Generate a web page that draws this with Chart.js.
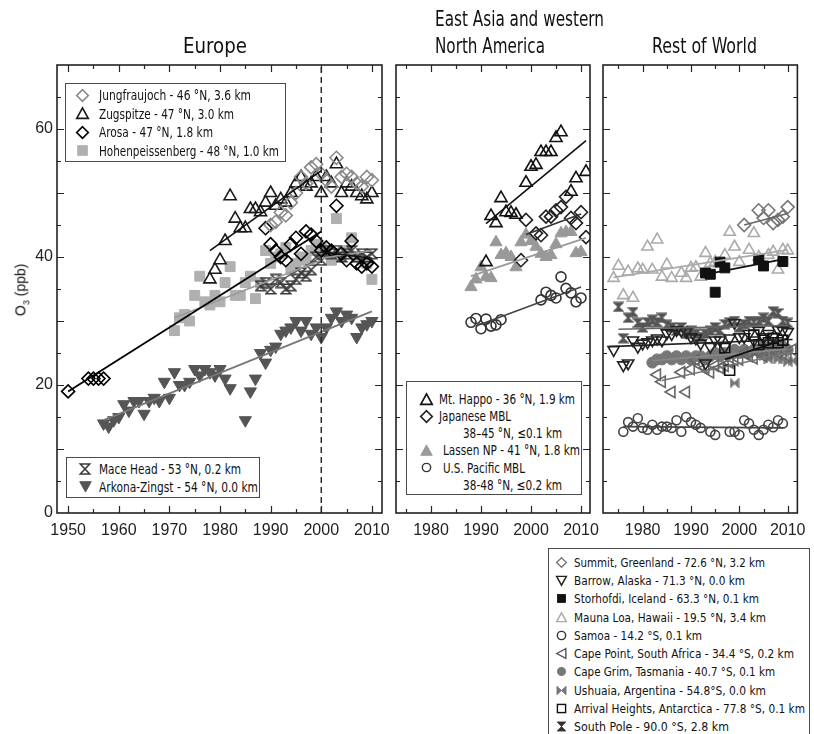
<!DOCTYPE html>
<html>
<head>
<meta charset="utf-8">
<title>Surface ozone trends</title>
<script src="https://cdn.jsdelivr.net/npm/chart.js@4.4.1/dist/chart.umd.min.js"></script>
<style>
html,body{margin:0;padding:0;background:#fff;}
body{width:814px;height:734px;position:relative;overflow:hidden;font-family:"Liberation Sans Narrow","DejaVu Sans Condensed","Liberation Sans",Arial,sans-serif;color:#111;}
canvas{position:absolute;left:0;top:0;}
.t{position:absolute;white-space:nowrap;transform-origin:0 50%;line-height:1;}
.box{position:absolute;border:1.5px solid #4a4a4a;background:#fff;box-sizing:border-box;}
svg.mk{position:absolute;overflow:visible;}
</style>
</head>
<body>
<canvas id="cEur" width="814" height="734"></canvas>
<canvas id="cAsia" width="814" height="734"></canvas>
<canvas id="cRow" width="814" height="734"></canvas>
<div id="overlay"></div>
<script>
// ================= DATA =================
const o3Range = [0, 70];
const euroXRange = [1947.8, 2012];
const asiaXRange = [1973, 2011.8];
const rowXRange = [1971.8, 2012];
const dividerYear = 2000;

// ---- Europe ----
const jungYears = [1990,1991,1992,1993,1994,1995,1996,1997,1998,1999,2000,2001,2002,2003,2004,2005,2006,2007,2008,2009,2010];
const jungO3    = [45,45.5,47,46.5,48.5,50,52.5,51.5,54,54.5,53,52,51,55.5,52.5,53,52.5,51.5,51,52.5,52];

const zugYears = [1978,1979,1980,1981,1982,1983,1984,1985,1986,1987,1988,1989,1990,1991,1992,1993,1994,1995,1996,1997,1998,1999,2000,2001,2002,2003,2004,2005,2006,2007,2008,2009,2010];
const zugO3    = [36.5,38,39.5,42.5,49.5,46,44.5,44.5,47.5,47.5,47,48.5,50,48,49,48.5,50,51.5,52.5,51,51.5,52.5,50,52.5,51.5,54.5,50,51.5,51,50,49.5,49,50];

const arosaYears = [1950,1954,1955,1956,1957,1989,1990,1991,1992,1993,1994,1995,1996,1997,1998,1999,2000,2001,2002,2003,2004,2005,2006,2007,2008,2009,2010];
const arosaO3    = [19,21,21,21,21,44.5,42,41,40,39.5,42,43,40.5,44,43.5,42.5,41,41.5,41,48,40.5,39.5,42.5,39,38.5,39,38.5];

const hohenYears = [1971,1972,1973,1974,1975,1976,1977,1978,1979,1980,1981,1982,1983,1984,1985,1986,1987,1988,1989,1990,1991,1992,1993,1994,1995,1996,1997,1998,1999,2000,2001,2002,2003,2004,2005,2006,2007,2008,2009,2010];
const hohenO3    = [28.5,30.5,31,30,34,37,33,32.5,34,33,36,38.5,34,34,36,37,33.5,36,41,39,40,40.5,41.5,38,39,40,39.5,41,42,41.5,41,39.5,46,40,41,43,40,39.5,39,36.5];

const maceYears = [1988,1989,1990,1991,1992,1993,1994,1995,1996,1997,1998,1999,2000,2001,2002,2003,2004,2005,2006,2007,2008,2009,2010];
const maceO3    = [35.5,36,35,36.5,36,35,35.5,36.5,37.5,37,38,40,39.5,41,40.5,41,40,40.5,41,40,40.5,40,40.5];

const arkonaYears = [1957,1958,1959,1960,1961,1962,1963,1964,1965,1966,1967,1968,1969,1970,1971,1972,1973,1974,1975,1976,1977,1978,1979,1980,1981,1982,1985,1986,1987,1988,1989,1990,1991,1992,1993,1994,1995,1996,1997,1998,1999,2000,2001,2002,2003,2004,2005,2006,2007,2008,2009,2010];
const arkonaO3    = [14,13.5,14.5,15,17,16,17.5,17.5,15.5,17.5,18,17.5,20.5,18,22,20,20,20.5,22.5,21.5,22.5,22,21.5,22.5,21,19.5,14.5,19,21,25,23.5,25.5,26,28,28.5,29,30,28.5,30,28,29,27.5,29,30.5,31.5,30,31,30.5,27.5,29,29.5,30];

const zugTrendYears = [1978, 2000],   zugTrendO3 = [41, 53.5];
const arosaTrendYears = [1950, 2000], arosaTrendO3 = [19, 44];
const hohenTrendYears = [1971, 2000], hohenTrendO3 = [30.5, 39.5];
const maceTrendYears = [1989, 2000],  maceTrendO3 = [35, 40];
const arkonaTrendYears = [1957, 2010], arkonaTrendO3 = [14.5, 31.5];
const arosaPostYears = [2000, 2010],  arosaPostO3 = [40.8, 39.8];
const hohenPostYears = [2000, 2010],  hohenPostO3 = [39.8, 41];

// ---- East Asia and western North America ----
const happoYears = [1991,1992,1993,1994,1995,1996,1997,1999,2000,2001,2002,2003,2004,2005,2006,2008,2009,2011];
const happoO3    = [39.2,46.4,45.3,49.2,47,46.9,46.6,51.6,54.1,54.4,56.4,56.4,56.4,58.6,59.5,50.2,52.3,53.3];

const japanYears = [1998,1999,2001,2002,2003,2004,2005,2006,2007,2008,2009,2010,2011];
const japanO3    = [39.5,45.8,43.7,43.4,46.3,46.3,47.3,47.8,49.4,46.1,45.3,47,43.1];

const lassenYears = [1988,1989,1990,1991,1992,1993,1994,1995,1996,1997,1998,1999,2000,2001,2002,2003,2004,2005,2006,2007,2008,2009,2010];
const lassenO3    = [35.3,36.5,38.4,36.9,36.7,42.3,40.3,40.6,40,38.4,42.3,43.5,42.5,41.6,40.5,40,40.3,42,43.7,43.9,43.9,40.6,40.8];

const pacificYears = [1988,1989,1990,1991,1992,1993,1994,2002,2003,2004,2005,2006,2007,2008,2009,2010];
const pacificO3    = [29.8,30.4,28.8,30.3,29.2,29.4,30.2,33.3,34.5,34,33.6,36.9,35.1,34.4,33,33.6];

const happoTrendYears = [1991, 2011],   happoTrendO3 = [45.2, 58.2];
const japanTrendYears = [1999, 2010],   japanTrendO3 = [43.5, 46.7];
const lassenTrendYears = [1988, 2011],  lassenTrendO3 = [37, 43];
const pacificTrendYears = [1989, 2010], pacificTrendO3 = [29.2, 35.3];

// ---- Rest of World ----
const summitYears = [2001,2004,2005,2006,2007,2008,2009,2010];
const summitO3    = [45,47.3,46.1,47.3,45.3,45.8,46.3,47.8];

const barrowYears = [1974,1976,1977,1978,1979,1980,1981,1982,1983,1984,1985,1986,1987,1988,1989,1990,1991,1992,1993,1994,1995,1996,1997,1998,1999,2000,2001,2002,2003,2004,2005,2006,2007,2008,2009,2010];
const barrowO3    = [25.5,23.1,23.4,27,26,26.5,26.7,27,27.3,27,28.1,28,28.6,28.5,28.3,27.5,27.3,26.5,23.4,26,27,27,26,27.3,29.7,27.5,27.5,28,27,28.5,27.5,28,27.5,28.6,28.5,28.3];

const storYears = [1993,1994,1995,1996,1997,2004,2005,2009];
const storO3    = [37.5,37.3,34.5,39.2,38.3,39.6,38.6,39.3];

const maunaYears = [1974,1975,1976,1977,1978,1979,1980,1981,1982,1983,1984,1985,1986,1988,1989,1990,1991,1992,1993,1994,1995,1997,1998,1999,2000,2002,2003,2004,2006,2007,2008,2009,2010];
const maunaO3    = [36.7,38.6,34,37.7,33.6,38.2,38,41.6,38,42.7,36.9,38.8,36.7,37.5,36.7,38.3,38.4,36.9,40.6,39,39.2,40.3,43.9,41.6,39.2,41.1,43.7,40,40.3,40.8,38,41.1,41];

const samoaYears = [1976,1977,1978,1979,1980,1981,1982,1983,1984,1985,1986,1987,1988,1989,1990,1991,1992,1994,1995,1998,1999,2000,2001,2002,2003,2004,2005,2006,2007,2008,2009];
const samoaO3    = [12.7,14.2,13.5,14.8,13.3,13,13.8,13,13.5,13.5,13.3,14.5,12.7,15,14.2,13.8,13.3,12.7,12.2,12.7,12.7,12.2,14.5,14,13,12.2,13,13.8,13.4,14.5,14];

const capePointYears = [1983,1984,1986,1988,1989,1990,1991,1992,1993,1994,1995,1996,1997,1998,1999,2000,2001,2002,2003,2004,2005,2006,2007,2008,2009,2010,2011];
const capePointO3    = [21.6,20.5,18.9,22,18.9,22.5,23.9,23,22.7,22,23,22.7,23,23.5,23.9,24,25,24.5,24.2,25,24.5,25,25.5,25,25.5,24.5,25.5];

const capeGrimYears = [1982,1983,1984,1985,1986,1987,1988,1989,1990,1991,1992,1993,1994,1995,1996,1997,1998,1999,2000,2001,2002,2003,2004,2005,2006,2007,2008,2009,2010];
const capeGrimO3    = [23.5,24,24,24.5,24,24.5,24,24.5,24,24.5,24.5,24,24.5,25,24.5,25,25,25.5,25,25.5,25,25.5,25.5,26,25.5,26,25.5,26,25.5];

const ushuaiaYears = [1999,2005,2006,2007,2008,2009,2010,2011];
const ushuaiaO3    = [20.3,24.5,24,24.5,24,24,23.6,23.8];

const arrivalYears = [1997,1998,2003,2004,2005,2006,2007,2008,2009];
const arrivalO3    = [25.8,22.3,27.8,26.3,27,26.6,27.3,26.6,27];

const southPoleYears = [1975,1976,1977,1978,1979,1980,1981,1982,1983,1984,1985,1986,1987,1988,1989,1990,1991,1992,1993,1994,1995,1996,1997,1998,1999,2000,2001,2002,2003,2004,2005,2006,2007,2008,2009,2010];
const southPoleO3    = [32.2,27.3,30.5,31.4,29.7,29,29.8,30.2,29.8,30.5,29.4,29,28.5,29,28,28.5,28,27.5,28,28.5,29,28.5,29.5,29.8,30,29,29.5,30,29.8,30,30.5,30,31.5,31.2,30,29.7];

const summitTrendYears = [2001, 2010],    summitTrendO3 = [45, 46.8];
const maunaTrendYears = [1974, 2010],     maunaTrendO3 = [36.8, 41.1];
const storTrendYears = [1993, 2010],      storTrendO3 = [37.3, 39.8];
const barrowTrendYears = [1973, 2011],    barrowTrendO3 = [26, 27.1];
const southPoleTrendYears = [1975, 2010], southPoleTrendO3 = [28.7, 29.3];
const capePointTrendYears = [1984, 2011], capePointTrendO3 = [20.7, 25.2];
const capeGrimTrendYears = [1982, 2010],  capeGrimTrendO3 = [23.8, 25.6];
const arrivalTrendYears = [1997, 2010],   arrivalTrendO3 = [24, 27.3];
const samoaTrendYears = [1976, 2009],     samoaTrendO3 = [13.5, 13.3];

// ---- Text ----
const panelTitles = ['Europe', 'East Asia and western', 'North America', 'Rest of World'];
const yAxisTitle = ['O', '3', ' (ppb)'];
const eurTopLabels = ['Jungfraujoch - 46 °N, 3.6 km', 'Zugspitze - 47 °N, 3.0 km', 'Arosa - 47 °N, 1.8 km', 'Hohenpeissenberg - 48 °N, 1.0 km'];
const eurBottomLabels = ['Mace Head - 53 °N, 0.2 km', 'Arkona-Zingst - 54 °N, 0.0 km'];
const asiaLabels = ['Mt. Happo - 36 °N, 1.9 km', 'Japanese MBL', '38–45 °N, ≤0.1 km', 'Lassen NP - 41 °N, 1.8 km', 'U.S. Pacific MBL', '38-48 °N, ≤0.2 km'];
const rowLabels = ['Summit, Greenland - 72.6 °N, 3.2 km', 'Barrow, Alaska - 71.3 °N, 0.0 km', 'Storhofdi, Iceland - 63.3 °N, 0.1 km', 'Mauna Loa, Hawaii - 19.5 °N, 3.4 km', 'Samoa - 14.2 °S, 0.1 km', 'Cape Point, South Africa - 34.4 °S, 0.2 km', 'Cape Grim, Tasmania - 40.7 °S, 0.1 km', 'Ushuaia, Argentina - 54.8°S, 0.0 km', 'Arrival Heights, Antarctica - 77.8 °S, 0.1 km', 'South Pole - 90.0 °S, 2.8 km'];

// ================= HELPERS =================
function pts(xs, ys){ return xs.map((x,i)=>({x:x, y:ys[i]})); }
function marks(xs, ys, st){ return Object.assign({data: pts(xs,ys), showLine:false}, st); }
function trend(xs, ys, color, w){ return {data: pts(xs,ys), showLine:true, pointRadius:0, borderColor:color, borderWidth:w||1.6, fill:false}; }
function hollow(style, c, r, rot){ return {pointStyle:style, pointRadius:r, pointBorderColor:c, pointBackgroundColor:'rgba(255,255,255,0)', pointBorderWidth:1.6, pointRotation:rot||0}; }
function solid(style, c, r, rot){ return {pointStyle:style, pointRadius:r, pointBorderColor:c, pointBackgroundColor:c, pointBorderWidth:1, pointRotation:rot||0}; }
function glyph(kind, size, color, filled){
  const c=document.createElement('canvas'); c.width=c.height=size; const g=c.getContext('2d');
  const m=1.2, s=size;
  g.beginPath();
  if(kind==='hour'){ g.moveTo(m,m); g.lineTo(s-m,m); g.lineTo(m,s-m); g.lineTo(s-m,s-m); g.closePath(); }
  else { g.moveTo(m,m); g.lineTo(m,s-m); g.lineTo(s-m,m); g.lineTo(s-m,s-m); g.closePath(); }
  if(filled){ g.fillStyle=color; g.fill(); }
  g.strokeStyle=color; g.lineWidth=1.6; g.lineJoin='miter'; g.stroke();
  return c;
}
const maceGlyph = glyph('hour', 12, '#3a3a3a', false);
const poleGlyph = glyph('hour', 11, '#555', true);
const ushGlyph  = glyph('bow', 10, '#777', true);

const frameTicks = {
  id:'frameTicks',
  afterDatasetsDraw(chart){
    const {ctx, chartArea:a, scales:{x, y}} = chart;
    ctx.save();
    ctx.strokeStyle='#262626'; ctx.lineWidth=1.2;
    ctx.beginPath();
    for(let v=Math.ceil(x.min/5)*5; v<=x.max; v+=5){
      const p=Math.round(x.getPixelForValue(v))+0.5, L=(v%10===0)?7:4;
      ctx.moveTo(p,a.bottom); ctx.lineTo(p,a.bottom-L);
      ctx.moveTo(p,a.top); ctx.lineTo(p,a.top+L);
    }
    for(let v=Math.ceil(y.min/5)*5+5; v<y.max; v+=5){
      const p=Math.round(y.getPixelForValue(v))+0.5, L=(v%10===0)?7:4;
      ctx.moveTo(a.left,p); ctx.lineTo(a.left+L,p);
      ctx.moveTo(a.right,p); ctx.lineTo(a.right-L,p);
    }
    ctx.stroke();
    ctx.lineWidth=1.6; ctx.strokeStyle='#222';
    ctx.strokeRect(a.left, a.top, a.right-a.left, a.bottom-a.top);
    ctx.restore();
  }
};

const AREA_TOP=65, AREA_BOTTOM=513, XAXIS_H=32;
Chart.defaults.font.family = '"Liberation Sans", Arial, sans-serif';
Chart.defaults.color = '#222';

function makeChart(id, left, right, xr, showY, datasets){
  const yOpts = {type:'linear', min:o3Range[0], max:o3Range[1], display:showY,
           grid:{display:false, drawTicks:false}, border:{display:false},
           ticks:{stepSize:20, includeBounds:false, padding:4, font:{size:16},
                  callback:(v)=> (Math.abs(v%20)<1e-9 ? String(v) : '')}};
  if(showY) yOpts.afterFit = (s)=>{ s.width = left; };
  return new Chart(document.getElementById(id), {
    type:'scatter',
    data:{datasets:datasets},
    plugins:[frameTicks],
    options:{
      responsive:false, animation:false, events:[], devicePixelRatio:1,
      layout:{padding:{left: showY?0:left, right:814-right, top:AREA_TOP, bottom:734-AREA_BOTTOM-XAXIS_H}},
      plugins:{legend:{display:false}, tooltip:{enabled:false}},
      scales:{
        x:{type:'linear', min:xr[0], max:xr[1],
           grid:{display:false, drawTicks:false}, border:{display:false},
           ticks:{stepSize:10, includeBounds:false, autoSkip:false, maxRotation:0, padding:8, font:{size:16},
                  callback:(v)=> (Math.abs(v%10)<1e-9 ? String(v) : '')},
           afterFit:(s)=>{ s.height = XAXIS_H; }},
        y:yOpts
      }
    }
  });
}

// ================= CHARTS =================
makeChart('cEur', 57, 382, euroXRange, true, [
  Object.assign(trend([dividerYear,dividerYear], o3Range, '#222', 1.4), {borderDash:[6,4]}),
  trend(zugTrendYears, zugTrendO3, '#111', 1.6),
  trend(arosaTrendYears, arosaTrendO3, '#000', 1.8),
  trend(hohenTrendYears, hohenTrendO3, '#9a9a9a', 1.6),
  trend(maceTrendYears, maceTrendO3, '#555', 1.4),
  trend(arkonaTrendYears, arkonaTrendO3, '#777', 1.8),
  trend(arosaPostYears, arosaPostO3, '#111', 1.6),
  trend(hohenPostYears, hohenPostO3, '#999', 1.6),
  marks(jungYears, jungO3, hollow('rectRot', '#8a8a8a', 6.5)),
  marks(zugYears, zugO3, hollow('triangle', '#1a1a1a', 7)),
  marks(arosaYears, arosaO3, hollow('rectRot', '#000', 6.5)),
  marks(maceYears, maceO3, {pointStyle:maceGlyph, pointRadius:6}),
  marks(hohenYears, hohenO3, solid('rect', '#b0b0b0', 7)),
  marks(arkonaYears, arkonaO3, solid('triangle', '#555', 7, 180))
]);

makeChart('cAsia', 396, 590, asiaXRange, false, [
  trend(happoTrendYears, happoTrendO3, '#111', 1.6),
  trend(japanTrendYears, japanTrendO3, '#333', 1.6),
  trend(lassenTrendYears, lassenTrendO3, '#999', 1.8),
  trend(pacificTrendYears, pacificTrendO3, '#444', 1.6),
  marks(happoYears, happoO3, hollow('triangle', '#111', 7)),
  marks(japanYears, japanO3, hollow('rectRot', '#222', 6.5)),
  marks(pacificYears, pacificO3, hollow('circle', '#333', 5)),
  marks(lassenYears, lassenO3, solid('triangle', '#999', 7))
]);

makeChart('cRow', 603, 804, rowXRange, false, [
  trend(summitTrendYears, summitTrendO3, '#666', 1.6),
  trend(storTrendYears, storTrendO3, '#111', 1.8),
  trend(maunaTrendYears, maunaTrendO3, '#aaa', 1.8),
  trend(arrivalTrendYears, arrivalTrendO3, '#111', 1.8),
  trend(barrowTrendYears, barrowTrendO3, '#222', 1.6),
  trend(southPoleTrendYears, southPoleTrendO3, '#666', 1.6),
  trend(capePointTrendYears, capePointTrendO3, '#777', 1.6),
  trend(capeGrimTrendYears, capeGrimTrendO3, '#888', 1.6),
  trend(samoaTrendYears, samoaTrendO3, '#444', 1.6),
  marks(summitYears, summitO3, hollow('rectRot', '#777', 6.5)),
  marks(storYears, storO3, solid('rect', '#111', 7)),
  marks(arrivalYears, arrivalO3, hollow('rect', '#111', 7)),
  marks(barrowYears, barrowO3, hollow('triangle', '#222', 6.5, 180)),
  marks(maunaYears, maunaO3, hollow('triangle', '#aaa', 6.5)),
  marks(samoaYears, samoaO3, hollow('circle', '#444', 4.5)),
  marks(capePointYears, capePointO3, hollow('triangle', '#666', 6.5, 270)),
  marks(ushuaiaYears, ushuaiaO3, {pointStyle:ushGlyph, pointRadius:5}),
  marks(southPoleYears, southPoleO3, {pointStyle:poleGlyph, pointRadius:5}),
  marks(capeGrimYears, capeGrimO3, solid('circle', '#777', 5.5))
]);

// ================= HTML TEXT / LEGENDS =================
const overlay = document.getElementById('overlay');
const NS='http://www.w3.org/2000/svg';
function addText(str, x, cy, size, width, family){
  const d=document.createElement('div'); d.className='t'; d.textContent=str;
  d.style.fontSize=size+'px'; d.style.left=x+'px'; d.style.top=(cy-size/2)+'px';
  if(family) d.style.fontFamily=family;
  overlay.appendChild(d);
  if(width){ const w=d.getBoundingClientRect().width; if(w>0) d.style.transform='scaleX('+(width/w)+')'; }
  return d;
}
function addBox(l,t,w,h){ const b=document.createElement('div'); b.className='box'; Object.assign(b.style,{left:l+'px',top:t+'px',width:w+'px',height:h+'px'}); overlay.appendChild(b); }
function addMarker(kind, color, cx, cy, sz){
  const s=sz||13, h=s/2;
  const svg=document.createElementNS(NS,'svg'); svg.setAttribute('class','mk');
  svg.setAttribute('width',s); svg.setAttribute('height',s); svg.setAttribute('viewBox','0 0 14 14');
  svg.style.left=(cx-h)+'px'; svg.style.top=(cy-h)+'px';
  const shapes={
    diamond:['polygon','7,0.8 13.2,7 7,13.2 0.8,7'], triUp:['polygon','7,1 13.2,12.2 0.8,12.2'],
    triDown:['polygon','0.8,1.8 13.2,1.8 7,13'], triLeft:['polygon','1,7 12.5,0.8 12.5,13.2'],
    square:['rect'], circle:['circle'], hour:['polygon','1.5,1.2 12.5,1.2 1.5,12.8 12.5,12.8'],
    bow:['polygon','1.2,1.5 1.2,12.5 12.8,1.5 12.8,12.5']
  };
  const parts=kind.split('-'); const sh=shapes[parts[0]]; const filled=parts[1]==='f';
  const el=document.createElementNS(NS, sh[0]);
  if(sh[0]==='polygon') el.setAttribute('points', sh[1]);
  if(sh[0]==='rect'){ el.setAttribute('x',1.8); el.setAttribute('y',1.8); el.setAttribute('width',10.4); el.setAttribute('height',10.4); }
  if(sh[0]==='circle'){ el.setAttribute('cx',7); el.setAttribute('cy',7); el.setAttribute('r',5.3); }
  el.setAttribute('fill', filled?color:'none'); el.setAttribute('stroke', color); el.setAttribute('stroke-width', filled?1:1.8);
  svg.appendChild(el); overlay.appendChild(svg);
}

// titles
addText(panelTitles[0], 183, 46, 22, 64);
addText(panelTitles[1], 435, 19, 22, 169);
addText(panelTitles[2], 435, 46, 22, 110);
addText(panelTitles[3], 652, 46, 22, 105);

// y axis title
(function(){
  const d=document.createElement('div'); d.className='t';
  d.innerHTML=yAxisTitle[0]+'<sub style="font-size:9px">'+yAxisTitle[1]+'</sub>'+yAxisTitle[2];
  d.style.fontSize='14px'; d.style.fontFamily='"Liberation Sans",Arial,sans-serif';
  overlay.appendChild(d);
  const r=d.getBoundingClientRect();
  d.style.left=(22 - r.width/2)+'px'; d.style.top=(290 - r.height/2)+'px';
  d.style.transformOrigin='50% 50%'; d.style.transform='rotate(-90deg)';
})();

// Europe legends
addBox(65, 83, 221, 79);
const eurTopMarks=[['diamond','#8a8a8a'],['triUp','#1a1a1a'],['diamond','#000'],['square-f','#b0b0b0']];
const eurTopY=[95,113.5,132,150.5], eurTopW=[152,135,114,180];
eurTopLabels.forEach((s,i)=>{ addMarker(eurTopMarks[i][0], eurTopMarks[i][1], 82.7, eurTopY[i], 13); addText(s, 99, eurTopY[i], 14, eurTopW[i]); });

addBox(66, 457, 194, 41);
const eurBotY=[468.5,486.7], eurBotW=[142,159];
addMarker('hour','#3a3a3a',85,eurBotY[0],12); addText(eurBottomLabels[0],99,eurBotY[0],14,eurBotW[0]);
addMarker('triDown-f','#555',85,eurBotY[1],13); addText(eurBottomLabels[1],99,eurBotY[1],14,eurBotW[1]);

// Asia legend
addBox(406, 381, 176, 114);
const asiaY=[399,416,433,450,467.5,485];
addMarker('triUp','#111',426,asiaY[0],13); addText(asiaLabels[0],439,asiaY[0],14,136);
addMarker('diamond','#222',426,asiaY[1],13); addText(asiaLabels[1],439,asiaY[1],14,72);
addText(asiaLabels[2],463,asiaY[2],14,99);
addMarker('triUp-f','#999',426,asiaY[3],13); addText(asiaLabels[3],443,asiaY[3],14,137);
addMarker('circle','#333',426,asiaY[4],11); addText(asiaLabels[4],443,asiaY[4],14,82);
addText(asiaLabels[5],463,asiaY[5],14,99);

// Rest of World legend
addBox(548, 548, 262, 200);
const rowMarks=[['diamond','#777'],['triDown','#222'],['square-f','#111'],['triUp','#aaa'],['circle','#333'],['triLeft','#555'],['circle-f','#777'],['bow-f','#777'],['square','#111'],['hour-f','#333']];
const rowY=[562.3,580.3,598.5,617,635,653.3,671.7,690,708.3,726.3];
const rowW=[191,171,185,192,128,220,201,192,231,155];
rowLabels.forEach((s,i)=>{ addMarker(rowMarks[i][0], rowMarks[i][1], 561, rowY[i], 11); addText(s, 574, rowY[i], 13, rowW[i]); });
</script>
</body>
</html>
